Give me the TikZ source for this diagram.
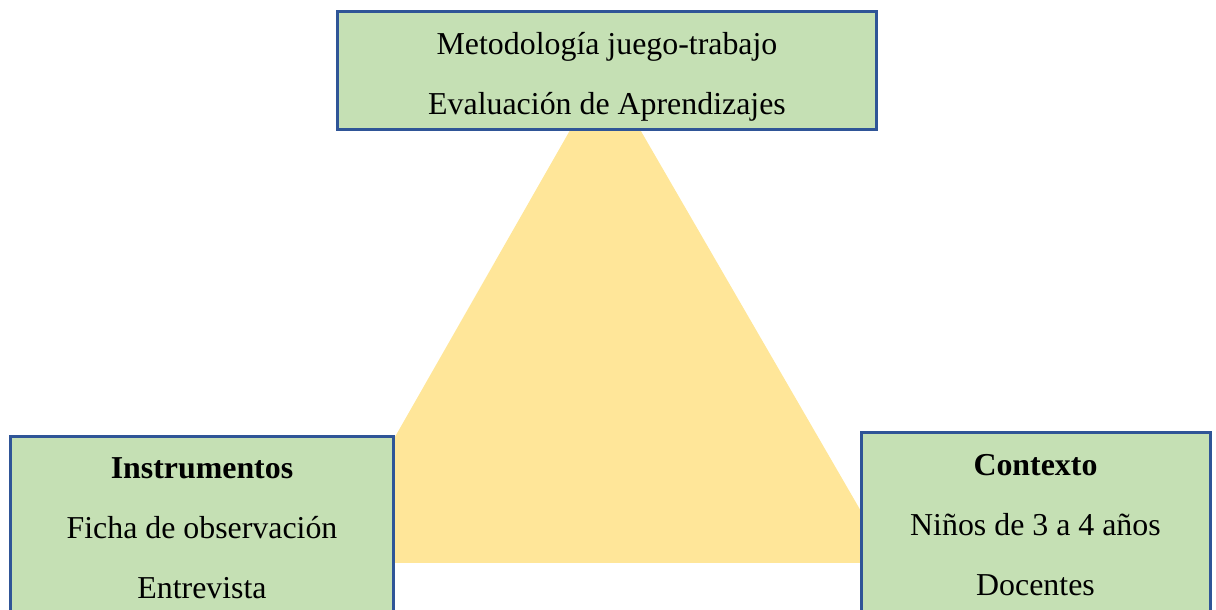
\documentclass[tikz,border=0pt]{standalone}
\usepackage{fontspec}
\setmainfont{Liberation Serif}
\usetikzlibrary{positioning}
\definecolor{boxgreen}{HTML}{C5E0B4}
\definecolor{boxblue}{HTML}{2F5597}
\definecolor{triyellow}{HTML}{FFE699}
\tikzset{
  topic/.style={draw=boxblue, line width=1.2pt, fill=boxgreen, align=center,
    inner sep=0pt, font=\fontsize{12.75}{24}\selectfont},
  topictext/.style={align=center, inner sep=0pt, font=\fontsize{12.75}{24}\selectfont}
}
\begin{document}
\begin{tikzpicture}[x=0.4pt,y=-0.4pt]

    \useasboundingbox (0,0) rectangle (1216,610);
    \clip (0,0) rectangle (1216,610);

    %triangle behind the boxes
    \coordinate (apex) at (605,69);
    \coordinate (bl) at (323,563);
    \coordinate (br) at (891,563);
    \fill[triyellow] (apex) -- (bl) -- (br) -- cycle;

    \node[topic, minimum width=215.2pt, minimum height=47.2pt] (metodo) at (607,71) {};
    \node[topictext] (metodotext) at (607,77)
        {Metodología juego-trabajo\\Evaluación de Aprendizajes};
    \node[topic, minimum width=152.8pt, minimum height=72.8pt] (instru) at (202,528)
        {\textbf{Instrumentos}\\Ficha de observación\\Entrevista};
    \node[topic, minimum width=139.6pt, minimum height=73.6pt] (contexto) at (1035.5,525)
        {\textbf{Contexto}\\Niños de 3 a 4 años\\Docentes};

\end{tikzpicture}
\end{document}
